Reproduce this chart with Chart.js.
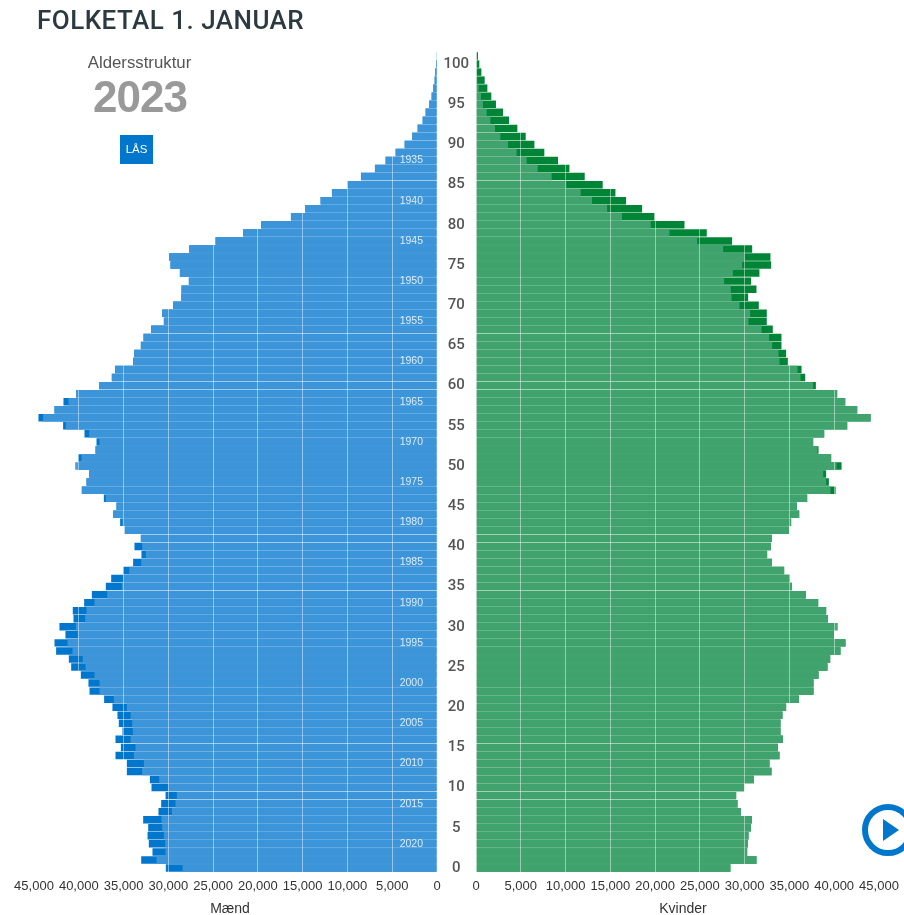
<!DOCTYPE html>
<html lang="da">
<head>
<meta charset="utf-8">
<title>Folketal 1. januar</title>
<script src="https://cdn.jsdelivr.net/npm/chart.js@4"></script>
<style>
	html, body { margin: 0; padding: 0; background: #fff; overflow: hidden; }
	#page { position: relative; width: 904px; height: 915px; }
	canvas { position: absolute; top: 0; }
	.txt { position: absolute; white-space: nowrap; z-index: 2; }
	#title { left: 37px; top: 5px; font: 500 26px Roboto, sans-serif; color: #2b3940; letter-spacing: 0.47px; }
	#sub { left: 39.5px; width: 200px; top: 53px; text-align: center; font: 16.8px "Liberation Sans", sans-serif; color: #555; }
	#year { left: 40px; width: 200px; top: 72px; text-align: center; font: bold 44px "Liberation Sans", sans-serif; color: #999; letter-spacing: -1px; }
	#lock { left: 120px; top: 135px; width: 33px; height: 29px; text-align: center; background: #0077cc; color: #fff; font: 11.5px/28px "Liberation Sans", sans-serif; }
	.axis { top: 900px; font: 14px "Liberation Sans", sans-serif; color: #333; transform: translateX(-50%); }
	#play { position: absolute; left: 862px; top: 804px; z-index: 2; }
</style>
</head>
<body>
<div id="page">
	<div class="txt" id="title">FOLKETAL 1. JANUAR</div>
	<div class="txt" id="sub">Aldersstruktur</div>
	<div class="txt" id="year">2023</div>
	<div class="txt" id="lock">LÅS</div>
	<canvas id="men" width="450" height="915" style="left:0"></canvas>
	<canvas id="women" width="467" height="915" style="left:437px"></canvas>
	<div class="txt axis" style="left:230px">Mænd</div>
	<div class="txt axis" style="left:683px">Kvinder</div>
	<svg id="play" width="52" height="52">
		<circle cx="26" cy="26" r="23" fill="none" stroke="#0077cc" stroke-width="6"></circle>
		<polygon points="21,15 37,26 21,37" fill="#0077cc"></polygon>
	</svg>
</div>
<script>
// all series run from age 0 up to age 101
const ages = [0,1,2,3,4,5,6,7,8,9,10,11,12,13,14,15,16,17,18,19,20,21,22,23,24,25,26,27,28,29,30,31,32,33,34,35,36,37,38,39,40,41,42,43,44,45,46,47,48,49,50,51,52,53,54,55,56,57,58,59,60,61,62,63,64,65,66,67,68,69,70,71,72,73,74,75,76,77,78,79,80,81,82,83,84,85,86,87,88,89,90,91,92,93,94,95,96,97,98,99,100,101];
const birthYears = [2023,2022,2021,2020,2019,2018,2017,2016,2015,2014,2013,2012,2011,2010,2009,2008,2007,2006,2005,2004,2003,2002,2001,2000,1999,1998,1997,1996,1995,1994,1993,1992,1991,1990,1989,1988,1987,1986,1985,1984,1983,1982,1981,1980,1979,1978,1977,1976,1975,1974,1973,1972,1971,1970,1969,1968,1967,1966,1965,1964,1963,1962,1961,1960,1959,1958,1957,1956,1955,1954,1953,1952,1951,1950,1949,1948,1947,1946,1945,1944,1943,1942,1941,1940,1939,1938,1937,1936,1935,1934,1933,1932,1931,1930,1929,1928,1927,1926,1925,1924,1923,1922];
const xTicks = [0, 5000, 10000, 15000, 20000, 25000, 30000, 35000, 40000, 45000];

const menFront = [28410,31320,30310,30350,30500,30690,30760,29610,29200,29050,30050,31020,32920,32730,33850,33670,34220,33960,34040,34220,34630,36090,37690,37690,38250,39250,39550,40700,41260,40110,40330,39290,39140,38250,36830,35190,35080,34370,33030,32510,32920,33070,34860,35120,36160,35790,36980,39660,39140,38840,40400,39700,38130,37690,38840,41450,43980,42710,41150,40290,37720,36310,35940,33930,33810,33070,32770,31920,30500,30690,29460,28560,28530,27710,28710,29760,29900,27670,24730,21640,19630,16310,14710,13000,11730,9980,8490,6930,5740,4620,3610,2760,2160,1600,1270,860,600,410,260,190,110,70];
const menBack = [30280,33030,31770,32180,32320,32250,32810,31100,30800,30310,31880,32060,34630,34630,35900,35300,35900,35120,35530,35680,36240,37170,38800,38920,39770,40850,41110,42530,42710,41490,42160,40590,40670,39400,38540,36980,36380,35040,33930,33000,33780,33070,34860,35380,36160,35790,37200,39660,39140,38840,40070,40070,38130,38020,39360,41750,44500,42710,41710,40290,37720,36310,35940,33930,33810,33070,32770,31920,30500,30690,29460,28560,28530,27710,28710,29760,29900,27670,24730,21640,19630,16310,14710,13000,11730,9980,8490,6930,5740,4620,3610,2760,2160,1600,1270,860,600,410,260,190,110,70];
const womenFront = [28410,31320,30280,30350,30430,30690,30800,29570,29200,29050,29940,31020,33000,32770,33890,33700,34260,34000,34000,34220,34630,36050,37690,37690,38250,39250,39550,40700,41260,39960,40400,39290,39100,38210,36830,35270,35040,34410,33030,32510,32920,33030,34930,35190,36090,35830,36980,39590,39100,38770,40260,39660,38130,37650,38880,41450,44060,42570,41230,40330,37650,36240,35900,33890,33780,33070,32730,31880,30430,30610,29420,28530,28450,27710,28680,29720,30020,27600,24690,21600,19510,16310,14640,12960,11690,10090,8450,6890,5660,4540,3580,2720,2120,1600,1190,780,560,300,150,70,40,0];
const womenBack = [28410,31320,30280,30350,30430,30690,30800,29570,29200,29050,29940,31020,33000,32770,33890,33700,34260,34000,34000,34220,34630,36050,37690,37690,38250,39250,39550,40700,41260,39960,40070,39290,39100,38210,36830,35270,35040,34410,33030,32510,32920,33030,34930,35190,36090,35830,36980,40150,39400,39100,40820,39660,38250,37650,38880,41450,44060,42570,41230,40330,37950,36760,36350,34820,34630,34110,34110,33140,32470,32470,31580,30390,31320,30720,31650,32960,32880,30840,28600,25770,23280,19920,18550,16760,15570,14150,12140,10430,9160,7630,6520,5550,4620,3690,3020,2230,1710,1270,970,600,370,220];

const fmt = (v) => Number(v).toLocaleString('en-US');

function makeDataset(values, color) {
	return { data: values, backgroundColor: color, borderWidth: 0, barPercentage: 0.93, categoryPercentage: 1, grouped: false };
}

// shared x axis, the left chart only flips it
function makeXScale(reverse) {
	return {
		type: 'linear',
		reverse,
		min: 0,
		max: 45000,
		afterBuildTicks: (scale) => { scale.ticks = xTicks.map((value) => ({ value })); },
		// drop the label overhang so the plot keeps the exact width
		afterFit: (scale) => {
			scale.height = 43;
			scale.paddingLeft = 0;
			scale.paddingRight = 0;
		},
		grid: { z: 1, color: 'rgba(255,255,255,0.45)', drawTicks: false },
		border: { display: false },
		ticks: {
			callback: fmt,
			padding: 7,
			maxRotation: 0,
			autoSkip: false,
			color: '#333',
			font: { family: 'Liberation Sans', size: 13 }
		}
	};
}

const baseOptions = {
	indexAxis: 'y',
	responsive: false,
	animation: false,
	plugins: { legend: { display: false }, tooltip: { enabled: false } }
};

new Chart(document.getElementById('men'), {
	type: 'bar',
	data: {
		labels: birthYears,
		datasets: [makeDataset(menFront, 'rgba(64,150,218,0.94)'), makeDataset(menBack, '#0077cc')]
	},
	options: {
		...baseOptions,
		layout: { padding: { left: 34, right: 13, top: 52, bottom: 0 } },
		scales: {
			x: makeXScale(true),
			y: {
				position: 'right',
				reverse: true,
				afterFit: (scale) => { scale.width = 0; },
				grid: { display: false },
				border: { display: false },
				ticks: {
					mirror: true,
					z: 1, // otherwise they end up under the bars
					padding: -14,
					autoSkip: false,
					color: 'rgba(255,255,255,0.8)',
					font: { family: 'Liberation Sans', size: 10.5 },
					// birth years sit inside the bars, every fifth one
					callback: function (value) {
						const year = birthYears[value];
						return year % 5 === 0 && year >= 1935 && year <= 2020 ? String(year) : null;
					}
				}
			}
		}
	}
});

new Chart(document.getElementById('women'), {
	type: 'bar',
	data: {
		labels: ages,
		datasets: [makeDataset(womenFront, 'rgba(67,164,112,0.95)'), makeDataset(womenBack, '#008537')]
	},
	options: {
		...baseOptions,
		layout: { padding: { left: 0, right: 25, top: 52, bottom: 0 } },
		scales: {
			x: makeXScale(false),
			y: {
				position: 'left',
				reverse: true,
				afterFit: (scale) => { scale.width = 39; },
				grid: { display: false, drawTicks: false },
				border: { display: false },
				ticks: {
					crossAlign: 'center',
					padding: 7,
					autoSkip: false,
					color: '#555',
					font: { family: 'Roboto', size: 15, weight: '500' },
					callback: function (value) {
						const age = ages[value];
						return age % 5 === 0 && age <= 100 ? String(age) : null;
					}
				}
			}
		}
	}
});
</script>
</body>
</html>
